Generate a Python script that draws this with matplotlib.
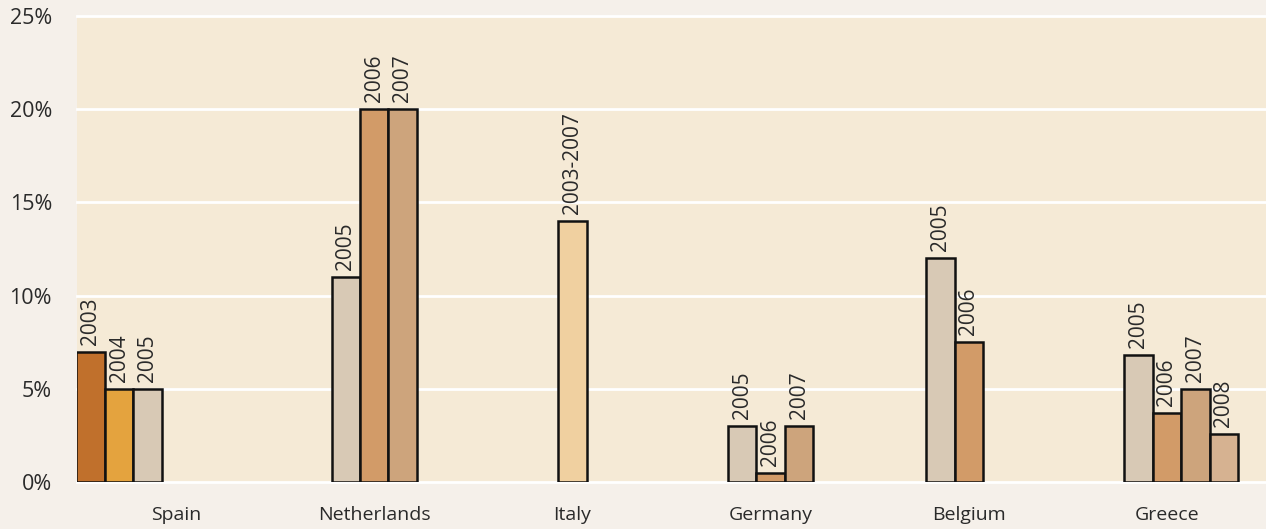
import matplotlib.pyplot as plt

plt.rcParams['font.family'] = ['Open Sans', 'DejaVu Sans']

countries = ['Spain', 'Netherlands', 'Italy', 'Germany', 'Belgium', 'Greece']

# per-country bar labels and values (percent)
spain_years = ['2003', '2004', '2005']
spain_vals = [7, 5, 5]
netherlands_years = ['2005', '2006', '2007']
netherlands_vals = [11, 20, 20]
italy_years = ['2003-2007']
italy_vals = [14]
germany_years = ['2005', '2006', '2007']
germany_vals = [3, 0.5, 3]
belgium_years = ['2005', '2006']
belgium_vals = [12, 7.5]
greece_years = ['2005', '2006', '2007', '2008']
greece_vals = [6.8, 3.7, 5, 2.6]

groups = [(spain_years, spain_vals), (netherlands_years, netherlands_vals),
          (italy_years, italy_vals), (germany_years, germany_vals),
          (belgium_years, belgium_vals), (greece_years, greece_vals)]

# slot of each period inside a country group, and its colour
slot = {'2003': -2, '2004': -1, '2005': 0, '2006': 1, '2007': 2, '2008': 3, '2003-2007': 1}
colors = {'2003': '#c0702c', '2004': '#e4a33e', '2005': '#d8c9b5', '2006': '#d29b68',
          '2007': '#cda47c', '2008': '#d6b291', '2003-2007': '#f0d0a0'}
ticks = [0, 5, 10, 15, 20, 25]
txt = '#2a2a2a'

fig = plt.figure(figsize=(12.66, 5.29), dpi=100)
fig.patch.set_facecolor('#f5f0ea')
ax = fig.add_axes([77 / 1266, 47 / 529, 1 - 77 / 1266, 466 / 529])
ax.set_facecolor('#f5ead6')

w = 0.1438
for i, (yrs, vals) in enumerate(groups):
    for yr, v in zip(yrs, vals):
        x = i + 0.5 + (slot[yr] - 1) * w
        ax.bar(x, v, width=w, color=colors[yr], edgecolor='#111111', linewidth=1.8, zorder=3)
        ax.annotate(yr, (x, v), xytext=(0, 5), textcoords='offset points',
                    rotation=90, ha='center', va='bottom', fontsize=15, color=txt)

for t in ticks:
    ax.axhline(t, color='white', lw=2, clip_on=False, zorder=1)

ax.set_xlim(0, 6)
ax.set_ylim(0, 25)
ax.set_yticks(ticks)
ax.set_yticklabels([f'{t}%' for t in ticks], fontsize=15.5)
ax.set_xticks([i + 0.5 for i in range(len(countries))])
ax.set_xticklabels(countries, fontsize=14)
ax.tick_params(length=0, colors=txt)
ax.tick_params(axis='y', pad=18)
ax.tick_params(axis='x', pad=17)
for s in ax.spines.values():
    s.set_visible(False)

plt.savefig('out.png', dpi=100)
